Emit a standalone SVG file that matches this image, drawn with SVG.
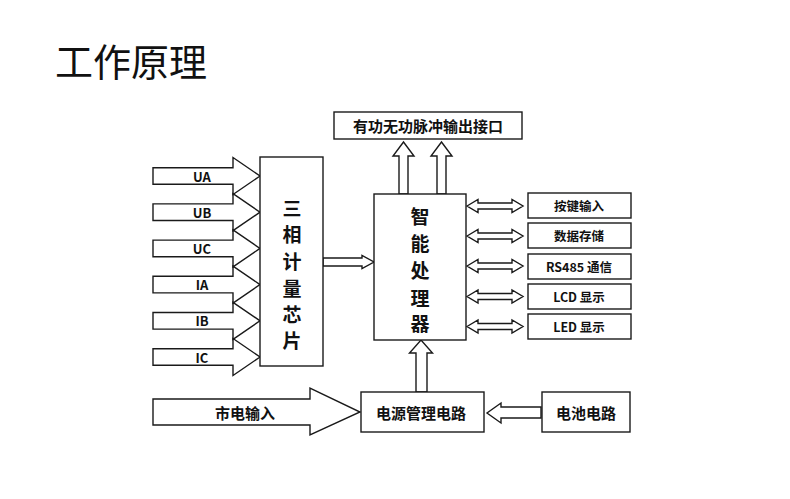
<svg xmlns="http://www.w3.org/2000/svg" width="790" height="499" viewBox="0 0 790 499">
<style>
.box{fill:#fff;stroke:#1a1a1a;stroke-width:1.4}
.arr{fill:#fff;stroke:#1a1a1a;stroke-width:1.4;stroke-linejoin:miter}
.arrn{fill:none;stroke:#1a1a1a;stroke-width:1.4}
text{font-family:"Noto Sans CJK SC","Noto Sans",sans-serif;fill:#111;dominant-baseline:central;text-anchor:middle}
.lb{font-weight:700;font-size:15px}
.sm{font-weight:700;font-size:12.5px}
.in{font-weight:700;font-size:13px}
.vt{font-weight:700;font-size:19px}
</style>
<rect width="790" height="499" fill="#fff"/>
<text x="131" y="59" style="font-size:38px;font-weight:400">工作原理</text>

<g id="connectors">
  <!-- input arrows -->
  <polygon class="arrn" points="153,167.7 233,167.7 233,157.5 260,176 233,194.5 233,184.3 153,184.3"/>
  <polygon class="arrn" points="153,203.9 233,203.9 233,193.7 260,212.2 233,230.7 233,220.5 153,220.5"/>
  <polygon class="arrn" points="153,240.1 233,240.1 233,229.9 260,248.4 233,266.9 233,256.7 153,256.7"/>
  <polygon class="arrn" points="153,276.3 233,276.3 233,266.1 260,284.6 233,303.1 233,292.9 153,292.9"/>
  <polygon class="arrn" points="153,312.5 233,312.5 233,302.3 260,320.8 233,339.3 233,329.1 153,329.1"/>
  <polygon class="arrn" points="153,348.7 233,348.7 233,338.5 260,357 233,375.5 233,365.3 153,365.3"/>
  <!-- chip to processor -->
  <polygon class="arr" points="323,258 362,258 362,255.5 374,262 362,268.5 362,266 323,266"/>
  <!-- processor up to output -->
  <polygon class="arr" points="399,194 399,156 393,156 403.5,142 414,156 408,156 408,194"/>
  <polygon class="arr" points="437,194 437,156 431,156 441.5,142 452,156 446,156 446,194"/>
  <!-- double arrows -->
  <polygon class="arr" points="467,206 478,199.5 478,203 512,203 512,199.5 523,206 512,212.5 512,209 478,209 478,212.5"/>
  <polygon class="arr" points="467,236 478,229.5 478,233 512,233 512,229.5 523,236 512,242.5 512,239 478,239 478,242.5"/>
  <polygon class="arr" points="467,266 478,259.5 478,263 512,263 512,259.5 523,266 512,272.5 512,269 478,269 478,272.5"/>
  <polygon class="arr" points="467,296.5 478,290 478,293.5 512,293.5 512,290 523,296.5 512,303 512,299.5 478,299.5 478,303"/>
  <polygon class="arr" points="467,326.5 478,320 478,323.5 512,323.5 512,320 523,326.5 512,333 512,329.5 478,329.5 478,333"/>
  <!-- power to processor -->
  <polygon class="arr" points="416,392 416,353 409.5,353 421,340 432.5,353 427,353 427,392"/>
  <!-- mains input -->
  <polygon class="arr" points="153,399 310,399 310,388 360,412 310,435 310,425 153,425"/>
  <!-- battery to power -->
  <polygon class="arr" points="541,407 501,407 501,403 487,413 501,423 501,418 541,418"/>
</g>

<g id="mains-label"><text class="lb" x="245" y="412">市电输入</text></g>
<g id="in-UA"><text class="in" x="202" y="176">UA</text></g>
<g id="in-UB"><text class="in" x="202" y="212.2">UB</text></g>
<g id="in-UC"><text class="in" x="202" y="248.4">UC</text></g>
<g id="in-IA"><text class="in" x="202" y="284.6">IA</text></g>
<g id="in-IB"><text class="in" x="202" y="320.8">IB</text></g>
<g id="in-IC"><text class="in" x="202" y="357">IC</text></g>

<g id="chip">
  <rect class="box" x="260" y="157" width="63" height="209"/>
  <text class="vt" x="292" y="207">三</text>
  <text class="vt" x="292" y="233.5">相</text>
  <text class="vt" x="292" y="260">计</text>
  <text class="vt" x="292" y="287">量</text>
  <text class="vt" x="292" y="313">芯</text>
  <text class="vt" x="292" y="339">片</text>
</g>

<g id="processor">
  <rect class="box" x="374" y="194" width="92" height="146"/>
  <text class="vt" x="420" y="215">智</text>
  <text class="vt" x="420" y="242">能</text>
  <text class="vt" x="420" y="269">处</text>
  <text class="vt" x="420" y="297">理</text>
  <text class="vt" x="420" y="322">器</text>
</g>

<g id="pulse-out">
  <rect class="box" x="334" y="112" width="188" height="27"/>
  <text class="lb" x="428" y="125.5">有功无功脉冲输出接口</text>
</g>

<g id="keys"><rect class="box" x="528" y="193" width="103" height="25"/><text class="sm" x="579" y="205.5">按键输入</text></g>
<g id="storage"><rect class="box" x="528" y="223" width="103" height="25"/><text class="sm" x="579" y="235.5">数据存储</text></g>
<g id="rs485"><rect class="box" x="528" y="254" width="103" height="25"/><text class="sm" x="579" y="266.5">RS485 通信</text></g>
<g id="lcd"><rect class="box" x="528" y="284" width="103" height="25"/><text class="sm" x="579" y="296.5">LCD 显示</text></g>
<g id="led"><rect class="box" x="528" y="314" width="103" height="25"/><text class="sm" x="579" y="326.5">LED 显示</text></g>

<g id="power">
  <rect class="box" x="361" y="392" width="123" height="40"/>
  <text class="lb" x="421" y="412">电源管理电路</text>
</g>
<g id="battery">
  <rect class="box" x="542" y="392" width="88" height="40"/>
  <text class="lb" x="586" y="412">电池电路</text>
</g>
</svg>
